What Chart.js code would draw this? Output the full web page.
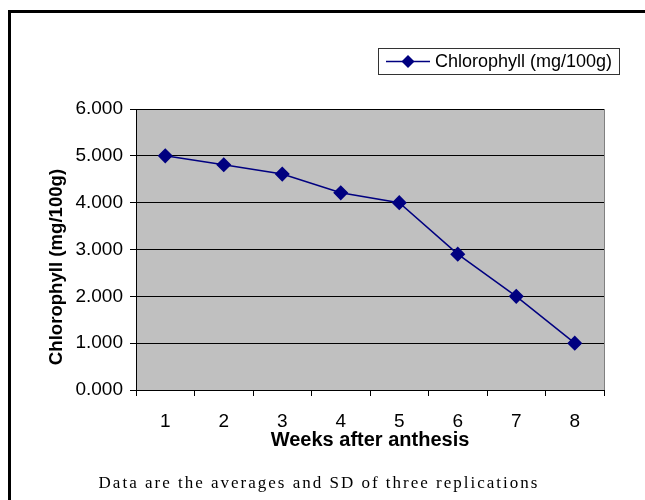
<!DOCTYPE html>
<html>
<head>
<meta charset="utf-8">
<script src="https://cdn.jsdelivr.net/npm/chart.js@4.4.0/dist/chart.umd.min.js"></script>
<style>
    html, body { margin: 0; padding: 0; background: #fff; }
    #wrap { position: relative; width: 645px; height: 500px; }
    #caption {
        position: absolute; left: 0; width: 638px; top: 473px;
        text-align: center;
        font-family: "Liberation Serif", "Times New Roman", serif;
        font-size: 17px; letter-spacing: 2px; color: #000;
    }
</style>
</head>
<body>
<div id="wrap">
    <canvas id="chart" width="645" height="500"></canvas>
    <div id="caption">Data are the averages and SD of three replications</div>
</div>
<script>
;(function () {
    'use strict';

    var weeks       = ['1', '2', '3', '4', '5', '6', '7', '8'];
    var chlorophyll = [5.0, 4.81, 4.61, 4.21, 4.0, 2.9, 2.0, 1.0];
    var yTicks      = [0, 1, 2, 3, 4, 5, 6];

    var seriesLabel = 'Chlorophyll (mg/100g)';
    var navy        = '#000080';
    var sans        = '"Liberation Sans", Arial, sans-serif';

    // grey plot background + frame, outer page border, y title, hand drawn legend
    var decor = {
        id: 'decor',
        beforeDraw: function (chart) {
            var ctx = chart.ctx, a = chart.chartArea;
            ctx.save();
            ctx.fillStyle = '#c0c0c0';
            ctx.fillRect(a.left, a.top, a.right - a.left, a.bottom - a.top);
            ctx.strokeStyle = '#808080';
            ctx.lineWidth = 1;
            ctx.strokeRect(a.left + 0.5, a.top + 0.5, a.right - a.left, a.bottom - a.top);
            ctx.restore();
        },
        afterDraw: function (chart) {
            var ctx = chart.ctx;
            ctx.save();
            // page border (top + left)
            ctx.strokeStyle = '#000';
            ctx.lineWidth = 3;
            ctx.beginPath();
            ctx.moveTo(9.5, 500);
            ctx.lineTo(9.5, 11.5);
            ctx.lineTo(645, 11.5);
            ctx.stroke();

            // y axis title, sits a bit below the axis centre in the original
            ctx.save();
            ctx.translate(57, 267);
            ctx.rotate(-Math.PI / 2);
            ctx.fillStyle = '#000';
            ctx.font = 'bold 18.6px ' + sans;
            ctx.textAlign = 'center';
            ctx.textBaseline = 'middle';
            ctx.fillText(seriesLabel, 0, 0);
            ctx.restore();

            // legend
            ctx.lineWidth = 1;
            ctx.strokeStyle = '#333';
            ctx.strokeRect(378.5, 48.5, 241, 26);
            ctx.strokeStyle = navy;
            ctx.lineWidth = 1.5;
            ctx.beginPath();
            ctx.moveTo(386, 61.5);
            ctx.lineTo(430, 61.5);
            ctx.stroke();
            ctx.fillStyle = navy;
            ctx.beginPath();
            ctx.moveTo(408, 55);
            ctx.lineTo(414.5, 61.5);
            ctx.lineTo(408, 68);
            ctx.lineTo(401.5, 61.5);
            ctx.closePath();
            ctx.fill();
            ctx.fillStyle = '#000';
            ctx.font = '18px ' + sans;
            ctx.textBaseline = 'middle';
            ctx.fillText(chart.data.datasets[0].label, 435, 62);
            ctx.restore();
        }
    };

    var tickFont  = { family: sans, size: 19 };
    var titleFont = { family: sans, size: 20, weight: 'bold' };

    new Chart(document.getElementById('chart'), {
        type: 'line',
        data: {
            labels: weeks,
            datasets: [{
                label: seriesLabel,
                data: chlorophyll,
                borderColor: navy,
                backgroundColor: navy,
                borderWidth: 1.5,
                pointStyle: 'rectRot',
                pointRadius: 6.5,
                pointHoverRadius: 6.5,
                tension: 0
            }]
        },
        options: {
            responsive: false,
            animation: false,
            layout: { padding: { left: 37, right: 41, top: 109, bottom: 46 } },
            plugins: {
                legend: { display: false },
                tooltip: { enabled: false }
            },
            scales: {
                x: {
                    offset: true,
                    grid: { offset: true, drawOnChartArea: false, color: '#000', tickLength: 6 },
                    border: { color: '#000' },
                    ticks: { color: '#000', font: tickFont, padding: 14, maxRotation: 0 },
                    title: { display: true, text: 'Weeks after anthesis', color: '#000', font: titleFont, padding: { top: 0, bottom: 2 } },
                    afterFit: function (s) { s.height = 64; }
                },
                y: {
                    min: yTicks[0],
                    max: yTicks[yTicks.length - 1],
                    afterBuildTicks: function (s) {
                        s.ticks = yTicks.map(function (v) { return { value: v }; });
                    },
                    grid: { color: '#000', tickLength: 6 },
                    border: { color: '#000' },
                    ticks: {
                        color: '#000', font: tickFont, padding: 7,
                        callback: function (v) { return v.toFixed(3); }
                    },
                    afterFit: function (s) { s.width = 99; }
                }
            }
        },
        plugins: [decor]
    });
})();
</script>
</body>
</html>
